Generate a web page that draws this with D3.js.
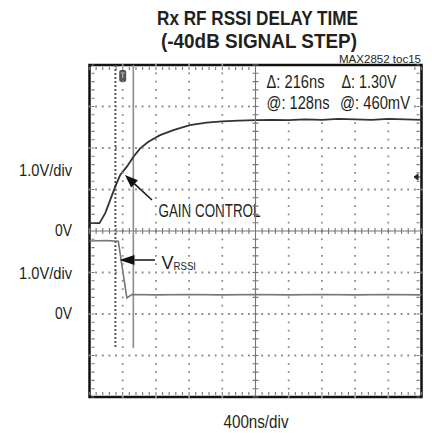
<!DOCTYPE html>
<meta charset="utf-8">
<script src="https://d3js.org/d3.v7.min.js"></script>
<style>
body { margin: 0; background: #fff; }
text { font-family: "Liberation Sans", Arial, sans-serif; fill: #231f20; }
</style>
<body>
<script>

// scope settings: 400ns/div, 10 x 8 divisions
var nsPerDiv = 400;
var xDivs = 10, yDivs = 8;

// gain control trace (ch1, 1.0V/div, 0V at centre line)
var gainT = [0, 120, 190, 250, 310, 370, 450, 530, 610, 710, 850, 1010, 1210, 1410, 1600, 1800,
             2000, 2200, 2400, 2600, 2800, 3000, 3200, 3400, 3600, 3800, 4000];
var gainV = [0.19, 0.19, 0.43, 0.75, 1.07, 1.35, 1.55, 1.79, 1.99, 2.15, 2.31, 2.43, 2.55, 2.61, 2.64, 2.66,
             2.67, 2.68, 2.67, 2.69, 2.68, 2.70, 2.69, 2.68, 2.70, 2.69, 2.68];

// RSSI trace (ch2, 1.0V/div, 0V two divisions below centre)
var rssiT = [0, 200, 347, 450, 510, 800, 1200, 1600, 2000, 2400, 2800, 3200, 3600, 4000];
var rssiV = [1.76, 1.77, 1.75, 0.39, 0.47, 0.46, 0.47, 0.46, 0.47, 0.46, 0.47, 0.46, 0.47, 0.46];

// cursors and trigger (ns)
var cursorT = [312, 528];
var triggerT = 400;
var rssiHigh = 1.76, rssiLow = 0.46;

var width = 432, height = 433;
var pL = 89.5, pR = 421.5, pT = 65, pB = 397;
var box = {x0: 261, y0: 67, x1: 414, y1: 116};

var svg = d3.select("body").append("svg")
    .attr("width", width)
    .attr("height", height);

var x = d3.scaleLinear().domain([0, nsPerDiv * xDivs]).range([pL, pR]);
var xd = d3.scaleLinear().domain([0, xDivs]).range([pL, pR]);
var yd = d3.scaleLinear().domain([-yDivs / 2, yDivs / 2]).range([pB, pT]);
var yGain = function(v) { return yd(v); };
var yRssi = function(v) { return yd(v - 2); };

function label(px, py, txt, size, anchor, len, weight) {
  var t = svg.append("text")
      .attr("x", px)
      .attr("y", py)
      .attr("text-anchor", anchor)
      .style("font-size", size + "px")
      .style("font-weight", weight || "normal")
      .text(txt);
  if (len) t.attr("textLength", len).attr("lengthAdjust", "spacingAndGlyphs");
  return t;
}

// frame
svg.append("path")
    .attr("d", "M" + pL + "," + pT + "H" + pR + "V" + pB + "H" + pL + "Z")
    .style("fill", "none")
    .style("stroke", "#111")
    .style("stroke-width", "2.5px");

// title
label(257.5, 25, "Rx RF RSSI DELAY TIME", 21, "middle", 201, "bold");
label(259, 48, "(-40dB SIGNAL STEP)", 21, "middle", 196, "bold");
label(421, 63, "MAX2852 toc15", 10.5, "end", 82);

// readout
var dt = cursorT[1] - cursorT[0], at = cursorT[1] - triggerT;
label(266.5, 88, "\u0394: " + dt + "ns", 18, "start", 58);
label(341.5, 88, "\u0394: " + (rssiHigh - rssiLow).toFixed(2) + "V", 18, "start", 55);
label(266.5, 108.5, "@: " + at + "ns", 18, "start", 63);
label(340, 108.5, "@: " + Math.round(rssiLow * 1000) + "mV", 18, "start", 70);

// cursors
var cy1 = pT, cy2 = yd(-2.82);
svg.append("line").attr("x1", x(cursorT[0])).attr("x2", x(cursorT[0]))
    .attr("y1", cy1).attr("y2", cy2)
    .attr("stroke", "#555").attr("stroke-width", 2).attr("stroke-dasharray", "2,2");
svg.append("line").attr("x1", x(cursorT[1])).attr("x2", x(cursorT[1]))
    .attr("y1", cy1).attr("y2", cy2)
    .attr("stroke", "#8c8c8c").attr("stroke-width", 1.6);

// trigger marker
var tx = x(triggerT);
svg.append("rect").attr("x", tx - 3.5).attr("y", 70).attr("width", 7).attr("height", 12)
    .attr("rx", 2).style("fill", "#555");
svg.append("path").attr("d", "M" + (tx - 2) + ",73H" + (tx + 2) + "M" + tx + ",73V78")
    .style("fill", "none").attr("stroke", "#ccc").attr("stroke-width", 1);

// traces
var gainLine = d3.line().x(function(d) { return x(d[0]); }).y(function(d) { return yGain(d[1]); });
var rssiLine = d3.line().x(function(d) { return x(d[0]); }).y(function(d) { return yRssi(d[1]); });

svg.append("path")
    .datum(d3.zip(rssiT, rssiV))
    .attr("d", rssiLine)
    .attr("fill", "none").attr("stroke", "#777").attr("stroke-width", 1.6);
svg.append("path")
    .datum(d3.zip(gainT, gainV))
    .attr("d", gainLine)
    .attr("fill", "none").attr("stroke", "#333").attr("stroke-width", 1.8);

// ground marker on right edge
svg.append("path").attr("d", "M414,177L418,174V180Z M418,177H421").attr("fill", "#222")
    .attr("stroke", "#222").attr("stroke-width", 1);

// annotations
function arrow(x1, y1, x2, y2, len, half) {
  var a = Math.atan2(y2 - y1, x2 - x1);
  var bx = x2 - len * Math.cos(a), by = y2 - len * Math.sin(a);
  svg.append("line").attr("x1", x1).attr("y1", y1).attr("x2", bx).attr("y2", by)
      .attr("stroke", "#111").attr("stroke-width", 1.5);
  svg.append("path")
      .attr("d", "M" + x2 + "," + y2 +
                 "L" + (bx + half * Math.sin(a)) + "," + (by - half * Math.cos(a)) +
                 "L" + (bx - half * Math.sin(a)) + "," + (by + half * Math.cos(a)) + "Z")
      .attr("fill", "#111");
}
arrow(152, 200, 125, 175, 13, 5);
arrow(155, 260, 119.5, 260, 15, 5);

label(158.5, 217, "GAIN CONTROL", 18.5, "start", 102);
label(161.5, 268.5, "V", 18.5, "start", 12);
label(173.5, 269.5, "RSSI", 11.5, "start", 22.5);

// channel labels
label(72, 176, "1.0V/div", 17, "end", 53);
label(72, 236, "0V", 17, "end", 17);
label(72, 279, "1.0V/div", 17, "end", 53);
label(72, 319, "0V", 17, "end", 17);
label(256, 428, "400ns/div", 18, "middle", 65);

// graticule last so nothing drawn later can hide it; skip the readout area
function inBox(px, py) { return px > box.x0 && px < box.x1 && py > box.y0 - 3 && py < box.y1; }

var minorX = d3.range(0, xDivs * 5 + 1).map(function(i) { return i / 5; });
var minorY = d3.range(0, yDivs * 5 + 1).map(function(i) { return i / 5 - yDivs / 2; });
var vLines = d3.range(1, xDivs).filter(function(d) { return d !== xDivs / 2; });
var hLines = d3.range(-yDivs / 2 + 1, yDivs / 2).filter(function(d) { return d !== 0; });

var dotPath = d3.path();
function dot(px, py) { if (!inBox(px, py)) dotPath.rect(px - 0.9, py - 0.9, 1.8, 1.8); }
vLines.forEach(function(d) { minorY.forEach(function(v) { dot(xd(d), yd(v)); }); });
hLines.forEach(function(d) { minorX.forEach(function(v) { dot(xd(v), yd(d)); }); });
svg.append("path").attr("d", dotPath.toString()).style("fill", "#8a8a8a");

var tickPath = d3.path();
function seg(x1, y1, x2, y2) {
  if (inBox(x1, y1) || inBox(x2, y2)) return;
  tickPath.moveTo(x1, y1); tickPath.lineTo(x2, y2);
}
seg(pL + 1, yd(0), pR - 1, yd(0));
seg(xd(5), pT + 1, xd(5), pB - 1);
minorX.forEach(function(v) {
  seg(xd(v), yd(0) - 3, xd(v), yd(0) + 3);
  seg(xd(v), pT + 2, xd(v), pT + 5);
  seg(xd(v), pB - 2, xd(v), pB - 5);
});
minorY.forEach(function(v) {
  seg(xd(5) - 3, yd(v), xd(5) + 3, yd(v));
  seg(pL + 2, yd(v), pL + 5, yd(v));
  seg(pR - 2, yd(v), pR - 5, yd(v));
});
svg.append("path").attr("d", tickPath.toString())
    .style("fill", "none").style("stroke", "#777").style("stroke-width", "1.1px");

</script>
</body>
</html>
